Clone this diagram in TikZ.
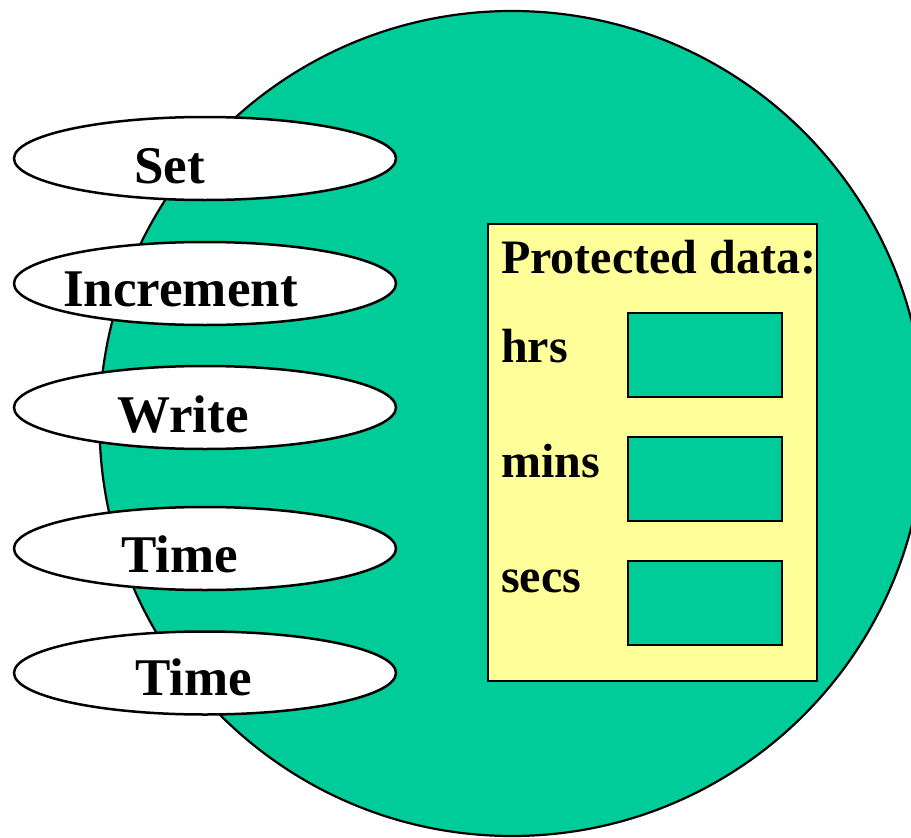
\documentclass[tikz,border=0pt]{standalone}
\usepackage{fontspec}
\setmainfont{Liberation Serif}
\usetikzlibrary{shapes.geometric}
\definecolor{clockgreen}{HTML}{00CC99}
\definecolor{datayellow}{HTML}{FFFF99}
\begin{document}
\begin{tikzpicture}[x=1pt,y=-1pt,
  opbox/.style={ellipse, draw, line width=2.5pt, fill=white, minimum width=382pt, minimum height=83pt, inner sep=0pt},
  oplbl/.style={anchor=base west, inner sep=0pt, font=\fontsize{53}{53}\selectfont\bfseries},
  datalbl/.style={anchor=base west, inner sep=0pt, font=\fontsize{48}{48}\selectfont\bfseries},
  slot/.style={draw, line width=2pt, fill=clockgreen, minimum width=154pt, minimum height=84pt, inner sep=0pt}]
\useasboundingbox (0,0) rectangle (911,838);
\clip (0,0) rectangle (911,838);
% object body
\node[circle, draw, line width=2.2pt, fill=clockgreen, minimum size=825pt, inner sep=0pt] (obj) at (512,423.5) {};
% operations
\node[opbox] (set) at (205,158.5) {};
\node[opbox] (incr) at (205,283.5) {};
\node[opbox] (write) at (205,407.5) {};
\node[opbox] (timea) at (205,548.5) {};
\node[opbox] (timeb) at (205,673) {};
\node[oplbl] (setl) at (134,183) {Set};
\node[oplbl] (incrl) at (63,306) {Increment};
\node[oplbl] (writel) at (117,432) {Write};
\node[oplbl] (timeal) at (121,572) {Time};
\node[oplbl] (timebl) at (135,695) {Time};
% protected data
\node[draw, line width=2pt, fill=datayellow, minimum width=329pt, minimum height=457pt, inner sep=0pt] (data) at (652.5,452.5) {};
\node[datalbl] (datal) at (501,273) {Protected data:};
\node[datalbl] (hrsl) at (501,362) {hrs};
\node[datalbl] (minsl) at (501,477) {mins};
\node[datalbl] (secsl) at (501,592) {secs};
\node[slot] (hrs) at (705,354.5) {};
\node[slot] (mins) at (705,479) {};
\node[slot] (secs) at (705,602.5) {};
\end{tikzpicture}
\end{document}
